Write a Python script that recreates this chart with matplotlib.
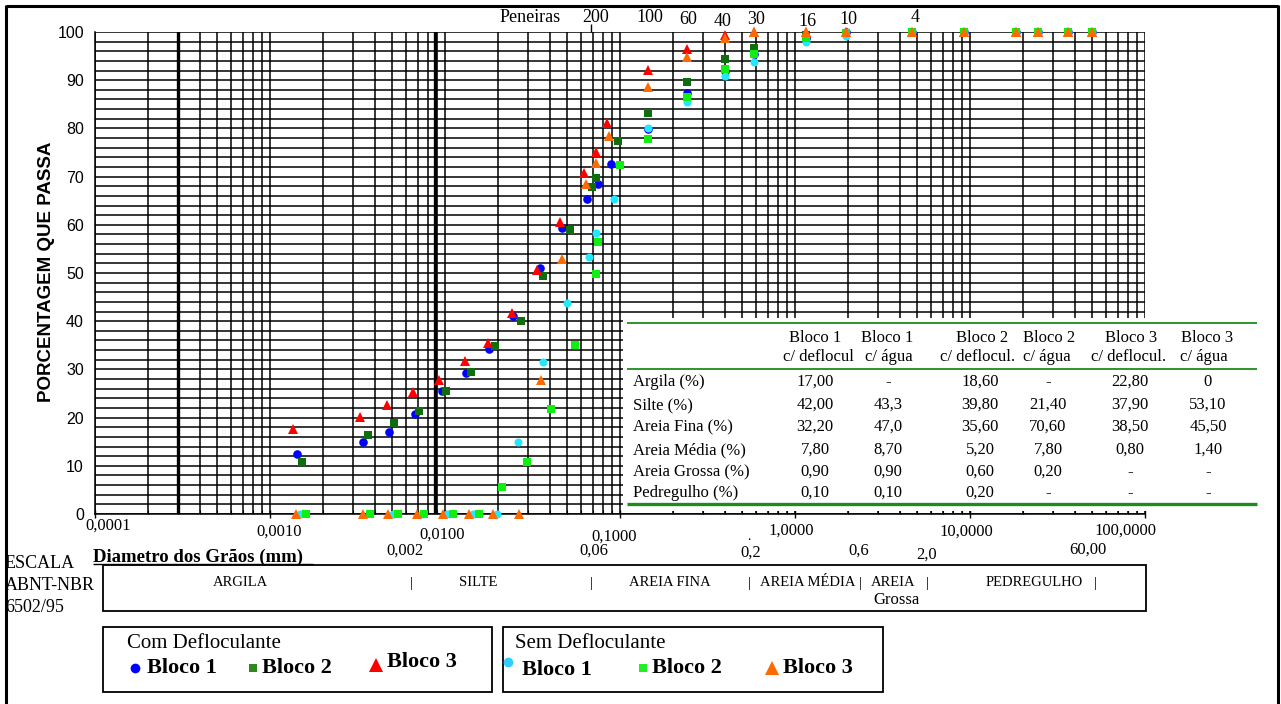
import matplotlib
matplotlib.use("Agg")
import matplotlib.pyplot as plt
from matplotlib.patches import Rectangle
from matplotlib.lines import Line2D
import numpy as np

# ---------------- data ----------------
# Com defloculante
com_b1_d = [0.00143, 0.0034, 0.0048, 0.0067, 0.0096, 0.0132, 0.0178, 0.0245, 0.0349, 0.0466,
            0.0648, 0.0745, 0.0889, 0.145, 0.242, 0.40, 0.585, 1.16, 1.96, 4.66, 9.25, 18.3, 24.5, 36.3, 49.8]
com_b1_p = [12.4, 14.9, 17.0, 20.7, 25.5, 29.3, 34.2, 41.1, 51.0, 59.3,
            65.3, 68.5, 72.6, 79.9, 87.4, 92.0, 95.4, 98.8, 99.9, 100, 100, 100, 100, 100, 100]
com_b2_d = [0.00152, 0.00363, 0.00511, 0.0071, 0.0101, 0.0141, 0.0193, 0.0272, 0.0365, 0.0518,
            0.0692, 0.0729, 0.0975, 0.145, 0.242, 0.40, 0.585, 1.16, 1.96, 4.66, 9.25, 18.3, 24.5, 36.3, 49.8]
com_b2_p = [10.8, 16.4, 18.9, 21.4, 25.5, 29.5, 34.9, 40.0, 49.4, 58.9,
            67.8, 69.7, 77.4, 83.2, 89.6, 94.4, 96.7, 99.4, 99.8, 100, 100, 100, 100, 100, 100]
com_b3_d = [0.00135, 0.00327, 0.00466, 0.00657, 0.00924, 0.0130, 0.0176, 0.0242, 0.0336, 0.0454,
            0.0623, 0.0729, 0.0843, 0.145, 0.242, 0.40, 0.585, 1.16, 1.96, 4.66, 9.25, 18.3, 24.5, 36.3, 49.8]
com_b3_p = [17.6, 20.1, 22.6, 25.3, 27.8, 31.7, 35.5, 41.7, 50.6, 60.6,
            70.8, 75.1, 81.1, 92.1, 96.5, 99.4, 100, 100, 100, 100, 100, 100, 100, 100, 100]
# Sem defloculante
sem_b1_d = [0.00148, 0.00505, 0.00739, 0.01026, 0.01445, 0.01982, 0.0261, 0.0363, 0.0498, 0.0665,
            0.0729, 0.0925, 0.145, 0.242, 0.40, 0.585, 1.16, 1.96, 4.66, 9.25, 18.3, 24.5, 36.3, 49.8]
sem_b1_p = [0, 0, 0, 0, 0, 0, 14.9, 31.5, 43.8, 53.3,
            58.3, 65.3, 80.0, 85.5, 90.9, 93.8, 98.0, 99.2, 100, 100, 100, 100, 100, 100]
sem_b2_d = [0.00161, 0.00373, 0.00539, 0.00759, 0.01111, 0.01564, 0.0212, 0.0294, 0.0403, 0.0553,
            0.0725, 0.0745, 0.100, 0.145, 0.242, 0.40, 0.585, 1.16, 1.96, 4.66, 9.25, 18.3, 24.5, 36.3, 49.8]
sem_b2_p = [0, 0, 0, 0, 0, 0, 5.6, 10.8, 21.8, 35.1,
            49.8, 56.4, 72.4, 77.8, 86.6, 92.3, 95.4, 98.8, 99.8, 100, 100, 100, 100, 100, 100]
sem_b3_d = [0.00141, 0.0034, 0.00472, 0.00692, 0.00975, 0.01371, 0.01879, 0.02648, 0.0354, 0.0466,
            0.064, 0.0729, 0.0865, 0.145, 0.242, 0.40, 0.585, 1.16, 1.96, 4.66, 9.25, 18.3, 24.5, 36.3, 49.8]
sem_b3_p = [0, 0, 0, 0, 0, 0, 0, 0, 27.8, 52.9,
            68.5, 72.8, 78.4, 88.6, 94.8, 98.7, 100, 100, 100, 100, 100, 100, 100, 100, 100]

x_tick_labels = ["0,0001", "0,0010", "0,0100", "0,1000", "1,0000", "10,0000", "100,0000"]
sieve_labels = ["200", "100", "60", "40", "30", "16", "10", "4"]

table_rows = ["Argila (%)", "Silte (%)", "Areia Fina (%)", "Areia Média (%)",
              "Areia Grossa (%)", "Pedregulho (%)"]
table_head1 = ["Bloco 1", "Bloco 1", "Bloco 2", "Bloco 2", "Bloco 3", "Bloco 3"]
table_head2 = ["c/ deflocul", "c/ água", "c/ deflocul.", "c/ água", "c/ deflocul.", "c/ água"]
table_vals = [["17,00", "-", "18,60", "-", "22,80", "0"],
              ["42,00", "43,3", "39,80", "21,40", "37,90", "53,10"],
              ["32,20", "47,0", "35,60", "70,60", "38,50", "45,50"],
              ["7,80", "8,70", "5,20", "7,80", "0,80", "1,40"],
              ["0,90", "0,90", "0,60", "0,20", "-", "-"],
              ["0,10", "0,10", "0,20", "-", "-", "-"]]

scale_bounds = ["0,002", "0,06", "0,2", "0,6", "2,0", "60,00"]

# ---------------- figure ----------------
W, H = 1281, 704
fig = plt.figure(figsize=(W / 100, H / 100), dpi=100)
SERIF = "Liberation Serif"
SANS = "Liberation Sans"

ax = fig.add_axes([95 / W, (H - 514) / H, 1050 / W, 482 / H])
ax.set_xscale("log")
ax.set_xlim(1e-4, 1e2)
ax.set_ylim(0, 100)

# log grid
GLW = 1.1
for dec in range(-4, 2):
    for k in range(1, 10):
        ax.axvline(k * 10.0 ** dec, color="black", lw=GLW, zorder=1)
ax.axvline(1e2, color="black", lw=GLW, zorder=1)
for p in range(0, 101, 2):
    ax.axhline(p, color="black", lw=GLW, zorder=1)
ax.axvline(3e-4, color="black", lw=2.4, zorder=1)
ax.axvline(8.8e-3, color="black", lw=2.4, zorder=1)

for s in ["top", "right"]:
    ax.spines[s].set_visible(False)
ax.spines["left"].set_linewidth(1.1)
ax.spines["bottom"].set_linewidth(1.1)

ax.set_yticks(range(0, 101, 10))
ax.set_yticklabels([str(v) for v in range(0, 101, 10)], fontfamily=SANS, fontsize=11.5)
ax.tick_params(axis="y", length=0, pad=8)
ax.set_xticks([10.0 ** e for e in range(-4, 3)])
ax.set_xticklabels([""] * 7)
ax.tick_params(axis="x", which="major", direction="inout", length=6, width=1)
ax.tick_params(axis="x", which="minor", direction="in", length=3, width=0.8)
ax.xaxis.set_minor_formatter(plt.NullFormatter())

series = [
    (com_b1_d, com_b1_p, "o", "#0000FF", 6.2),
    (com_b2_d, com_b2_p, "s", "#0E6E0E", 5.8),
    (com_b3_d, com_b3_p, "^", "#FF0000", 7.5),
    (sem_b1_d, sem_b1_p, "o", "#22E8FF", 5.8),
    (sem_b2_d, sem_b2_p, "s", "#11EE11", 5.8),
    (sem_b3_d, sem_b3_p, "^", "#FF6A00", 7.5),
]
for d, p, m, c, ms in series:
    ax.plot(d, p, linestyle="none", marker=m, color=c, markersize=ms,
            markeredgewidth=0, clip_on=False, zorder=5)

# ---------------- overlay in pixel coords ----------------
ov = fig.add_axes([0, 0, 1, 1], zorder=5)
ov.set_xlim(0, W)
ov.set_ylim(H, 0)
ov.axis("off")
ov.patch.set_alpha(0)

def T(x, y, s, **kw):
    kw.setdefault("fontfamily", SERIF)
    kw.setdefault("fontsize", 12)
    kw.setdefault("ha", "center")
    kw.setdefault("va", "center")
    ov.text(x, y, s, **kw)

def L(x0, y0, x1, y1, lw=1.0, color="black"):
    ov.add_line(Line2D([x0, x1], [y0, y1], color=color, lw=lw, solid_capstyle="butt"))

# outer frame
L(6, 6, 1278, 6, lw=2.2)
L(6, 5, 6, 704, lw=2.2)
L(1278, 5, 1278, 704, lw=2.2)

# y label
T(47, 272, "PORCENTAGEM QUE PASSA", fontfamily=SANS, fontweight="bold",
  fontsize=13.5, rotation=90)

# top sieves
T(530, 18, "Peneiras", fontsize=13)
sieve_pos = [(596, 18), (650, 18), (688, 20), (723, 22), (756, 20), (807, 22), (848, 20), (915, 18)]
for lab, (sx, sy) in zip(sieve_labels, sieve_pos):
    T(sx, sy, lab, fontsize=13)
L(591, 24, 591, 32, lw=1.0)

# x tick labels
xl_pos = [(108, 526), (279, 532), (442, 535), (614, 537), (791, 531), (966, 532), (1125, 531)]
for lab, (lx, ly) in zip(x_tick_labels, xl_pos):
    T(lx, ly, lab, fontsize=12)

# table (white box covering grid)
ov.add_patch(Rectangle((623, 318), 1262 - 623, 511 - 318, facecolor="white",
                       edgecolor="none", zorder=0))
GREEN = "#1E8B1E"
L(627, 323, 1257, 323, lw=1.3, color=GREEN)
L(627, 369, 1257, 369, lw=1.3, color=GREEN)
L(627, 504, 1257, 504, lw=2.4, color=GREEN)
head_x = [815, 887, 982, 1049, 1131, 1207]
head2_x = [818, 889, 978, 1047, 1129, 1204]
val_x = [815, 888, 980, 1048, 1130, 1208]
for i in range(6):
    T(head_x[i], 338, table_head1[i], fontsize=12)
    T(head2_x[i], 357, table_head2[i], fontsize=12)
row_y = [382, 405, 427, 450, 472, 493]
for r, lab in enumerate(table_rows):
    T(633, row_y[r], lab, ha="left", fontsize=12)
    for c in range(6):
        T(val_x[c], row_y[r], table_vals[r][c], fontsize=12)

# scale section
T(5, 563, "ESCALA", ha="left", fontsize=13)
T(5, 586, "ABNT-NBR", ha="left", fontsize=13)
T(5, 608, "6502/95", ha="left", fontsize=13)
T(93, 557, "Diametro dos Grãos (mm)", ha="left", fontsize=13.5, fontweight="bold")
L(93, 564, 313, 564, lw=1.0)
ov.add_patch(Rectangle((103, 565), 1146 - 103, 611 - 565, facecolor="none",
                       edgecolor="black", lw=1.3))
bound_pos = [(405, 551), (594, 551), (751, 553), (859, 551), (927, 555), (1088, 550)]
for lab, (bx, by) in zip(scale_bounds, bound_pos):
    T(bx, by, lab, fontsize=12)
T(749, 537, ".", fontsize=10)
SC = 10.5
T(240, 583, "ARGILA", fontsize=SC)
T(411, 583, "|", fontsize=SC)
T(478, 583, "SILTE", fontsize=SC)
T(591, 583, "|", fontsize=SC)
T(670, 583, "AREIA FINA", fontsize=SC)
T(749, 583, "|", fontsize=SC)
T(808, 583, "AREIA MÉDIA", fontsize=SC)
T(860, 583, "|", fontsize=SC)
T(893, 583, "AREIA", fontsize=SC)
T(927, 583, "|", fontsize=SC)
T(1034, 583, "PEDREGULHO", fontsize=SC)
T(1095, 583, "|", fontsize=SC)
T(896, 600, "Grossa", fontsize=12)

# legends
ov.add_patch(Rectangle((103, 627), 492 - 103, 692 - 627, facecolor="none",
                       edgecolor="black", lw=1.3))
ov.add_patch(Rectangle((503, 627), 883 - 503, 692 - 627, facecolor="none",
                       edgecolor="black", lw=1.3))
T(127, 643, "Com Defloculante", ha="left", fontsize=15)
T(515, 643, "Sem Defloculante", ha="left", fontsize=15)

def M(x, y, m, c, ms):
    ov.plot([x], [y], marker=m, color=c, markersize=ms, markeredgewidth=0, linestyle="none")

M(135, 668, "o", "#0000FF", 7)
T(147, 668, "Bloco 1", ha="left", fontsize=16, fontweight="bold")
M(253, 668, "s", "#2B8A1B", 6)
T(262, 668, "Bloco 2", ha="left", fontsize=16, fontweight="bold")
M(376, 665, "^", "#FF0000", 10)
T(387, 662, "Bloco 3", ha="left", fontsize=16, fontweight="bold")
M(508, 662, "o", "#33CCFF", 7)
T(522, 670, "Bloco 1", ha="left", fontsize=16, fontweight="bold")
M(643, 668, "s", "#22EE22", 6)
T(652, 668, "Bloco 2", ha="left", fontsize=16, fontweight="bold")
M(772, 668, "^", "#FF6A00", 10)
T(783, 668, "Bloco 3", ha="left", fontsize=16, fontweight="bold")

fig.savefig("out.png", dpi=100)
